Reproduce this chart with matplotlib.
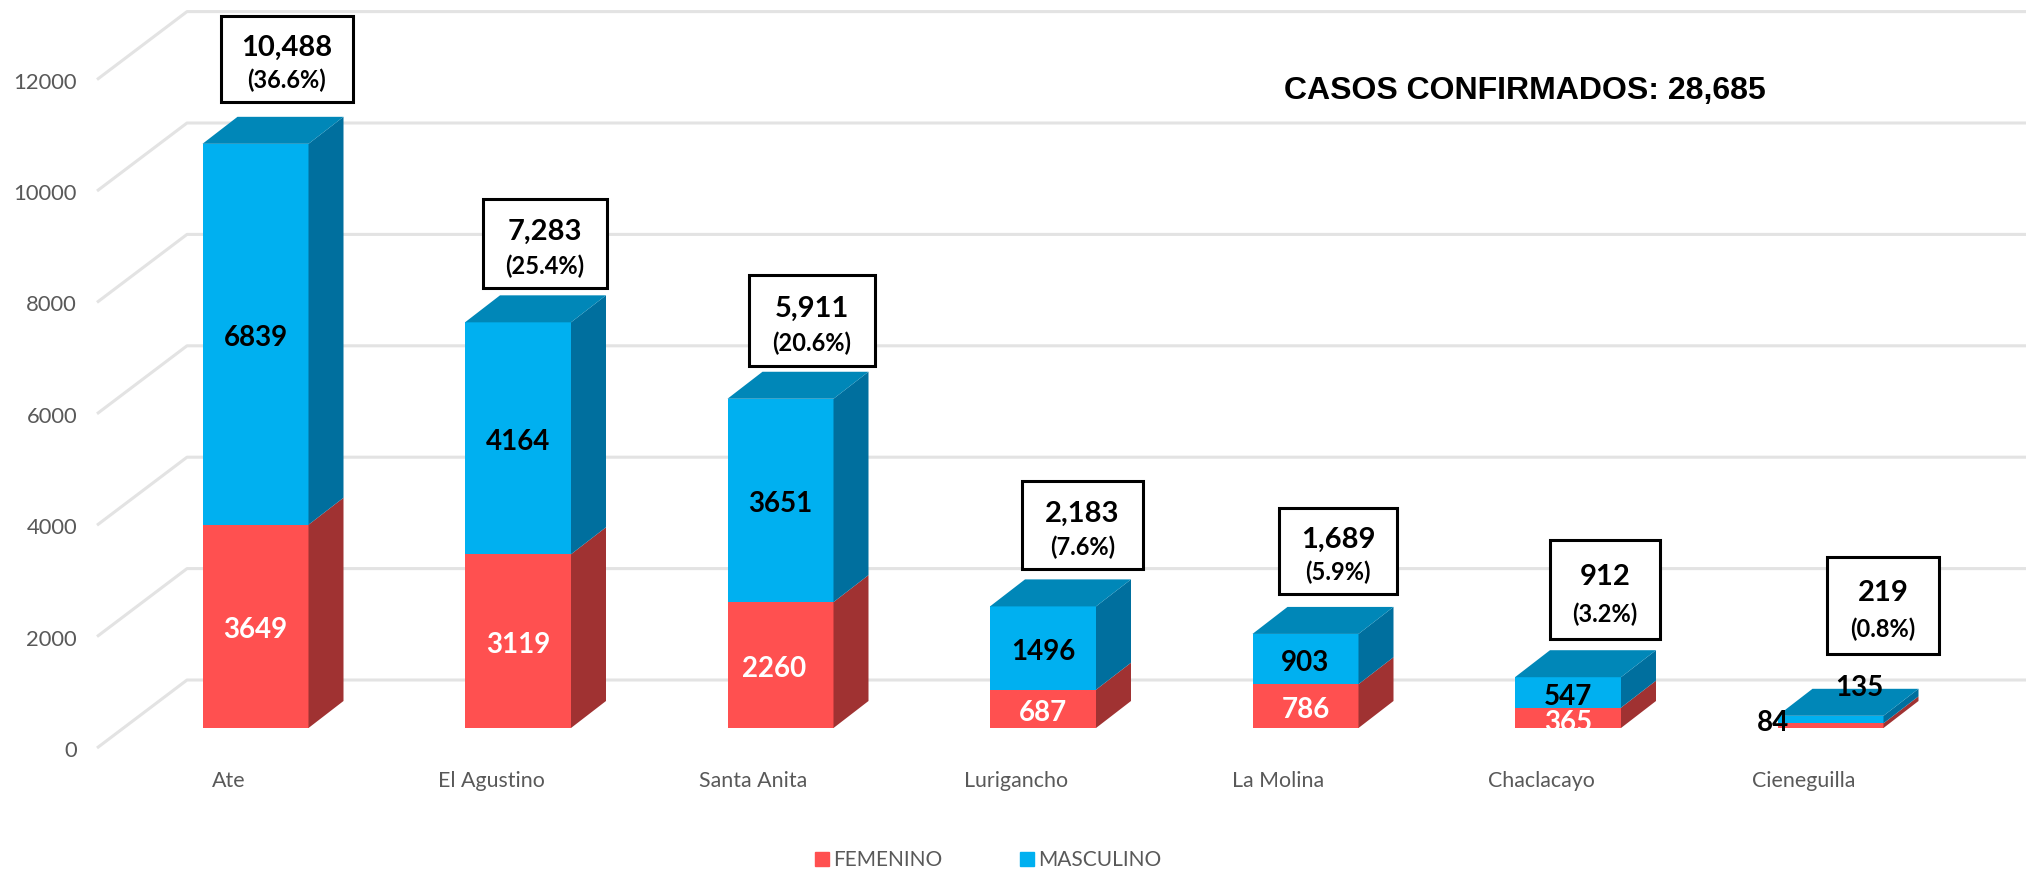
import matplotlib
matplotlib.use("Agg")
import matplotlib.pyplot as plt
from matplotlib.patches import Patch, Polygon, Rectangle

districts = ["Ate", "El Agustino", "Santa Anita", "Lurigancho", "La Molina", "Chaclacayo", "Cieneguilla"]
femenino = [3649, 3119, 2260, 687, 786, 365, 84]
masculino = [6839, 4164, 3651, 1496, 903, 547, 135]
totales = ["10,488", "7,283", "5,911", "2,183", "1,689", "912", "219"]
porcentajes = ["(36.6%)", "(25.4%)", "(20.6%)", "(7.6%)", "(5.9%)", "(3.2%)", "(0.8%)"]
y_ticks = [0, 2000, 4000, 6000, 8000, 10000, 12000]

W, H = 2026, 869
# pixel layout of the fake 3d chart
Y0_PX = 728
PX_PER_UNIT = 0.0557
X0_PX = 255.5
PITCH_PX = 262.5

BLUE = "#00B0F0"
BLUE_TOP = "#0087B8"
BLUE_SIDE = "#006F9E"
RED = "#FF5050"
RED_SIDE = "#A03232"
GRID = "#E3E3E3"
GREY = "#595959"

plt.rcParams["font.family"] = ["Lato", "DejaVu Sans"]

fig = plt.figure(figsize=(W / 100, H / 100), dpi=100)
ax = fig.add_axes([0, 0, 1, 1])
ax.set_xlim(-X0_PX / PITCH_PX, (W - X0_PX) / PITCH_PX)
ax.set_ylim(-(H - Y0_PX) / PX_PER_UNIT, Y0_PX / PX_PER_UNIT)
ax.axis("off")


def px_x(p):
    return (p - X0_PX) / PITCH_PX


def px_h(p):
    return p / PX_PER_UNIT


bar_w = 106 / PITCH_PX
dx = 35 / PITCH_PX
dy = px_h(27)

# gridlines: floor part then back wall
grid_left = px_x(97)
grid_back = px_x(187)
grid_right = px_x(W)
low = px_h(20)
high = px_h(48)
for t in y_ticks:
    ax.plot([grid_left, grid_back, grid_right], [t - low, t + high, t + high],
            color=GRID, lw=2.2, zorder=1, solid_capstyle="butt")
    ax.text(px_x(77), t - low - px_h(3), str(t), ha="right", va="center", fontsize=15.8, color=GREY)

# bars
for i, (f, m) in enumerate(zip(femenino, masculino)):
    left = i - bar_w / 2
    right = i + bar_w / 2
    top = f + m
    ax.bar(i, f, width=bar_w, color=RED, zorder=3)
    ax.bar(i, m, width=bar_w, bottom=f, color=BLUE, zorder=3)
    ax.add_patch(Polygon([(right, 0), (right + dx, dy), (right + dx, f + dy), (right, f)],
                         color=RED_SIDE, lw=0, zorder=3))
    ax.add_patch(Polygon([(right, f), (right + dx, f + dy), (right + dx, top + dy), (right, top)],
                         color=BLUE_SIDE, lw=0, zorder=3))
    ax.add_patch(Polygon([(left, top), (left + dx, top + dy), (right + dx, top + dy), (right, top)],
                         color=BLUE_TOP, lw=0, zorder=3))
    ax.text(i - 27 / PITCH_PX, -px_h(53), districts[i], ha="center", va="center",
            fontsize=15.4, color=GREY)

# segment labels, small bars get moved by hand
fem_xy = {2: (-6, -4), 5: (0, -5), 6: (-57, 3)}
mas_xy = {5: (0, -5), 6: (29, 32)}
for i, (f, m) in enumerate(zip(femenino, masculino)):
    ox, oy = fem_xy.get(i, (0, -4))
    c = "black" if i == 6 else "white"
    ax.text(i + ox / PITCH_PX, f / 2 + px_h(oy), str(f), ha="center", va="center",
            fontsize=20, fontweight="bold", color=c, zorder=5)
    ox, oy = mas_xy.get(i, (0, -4))
    ax.text(i + ox / PITCH_PX, f + m / 2 + px_h(oy), str(m), ha="center", va="center",
            fontsize=20, fontweight="bold", color="black", zorder=5)

# total boxes, left/right/top/bottom in pixels
boxes = [(221, 353, 16, 102), (483, 607, 199, 288), (749, 875, 275, 366),
         (1022, 1143, 481, 569), (1279, 1397, 508, 594), (1550, 1660, 540, 639),
         (1827, 1939, 557, 654)]
for i, (x0, x1, y0, y1) in enumerate(boxes):
    ax.add_patch(Rectangle((px_x(x0), px_h(Y0_PX - y1)), (x1 - x0) / PITCH_PX, px_h(y1 - y0),
                           fc="white", ec="black", lw=2.2, zorder=4))
    xc = px_x((x0 + x1) / 2)
    ax.text(xc, px_h(Y0_PX - (y0 + (y1 - y0) * 0.36 + 1)), totales[i], ha="center", va="center",
            fontsize=21, fontweight="bold", color="black", zorder=5)
    ax.text(xc, px_h(Y0_PX - (y0 + (y1 - y0) * 0.74 + 1)), porcentajes[i], ha="center", va="center",
            fontsize=17, fontweight="bold", color="black", zorder=5)

ax.text(px_x(1525), px_h(Y0_PX - 91), "CASOS CONFIRMADOS: 28,685", ha="center", va="center",
        fontsize=23, fontweight="bold", family=["Liberation Sans"], color="black")

ax.legend(handles=[Patch(color=RED, label="FEMENINO"), Patch(color=BLUE, label="MASCULINO")],
          ncol=2, frameon=False, loc="center", bbox_to_anchor=(988 / W, 1 - 860 / H),
          fontsize=15, labelcolor=GREY, handlelength=0.65, handleheight=0.65,
          handletextpad=0.2, columnspacing=3.75)

fig.savefig("out.png", dpi=100)
